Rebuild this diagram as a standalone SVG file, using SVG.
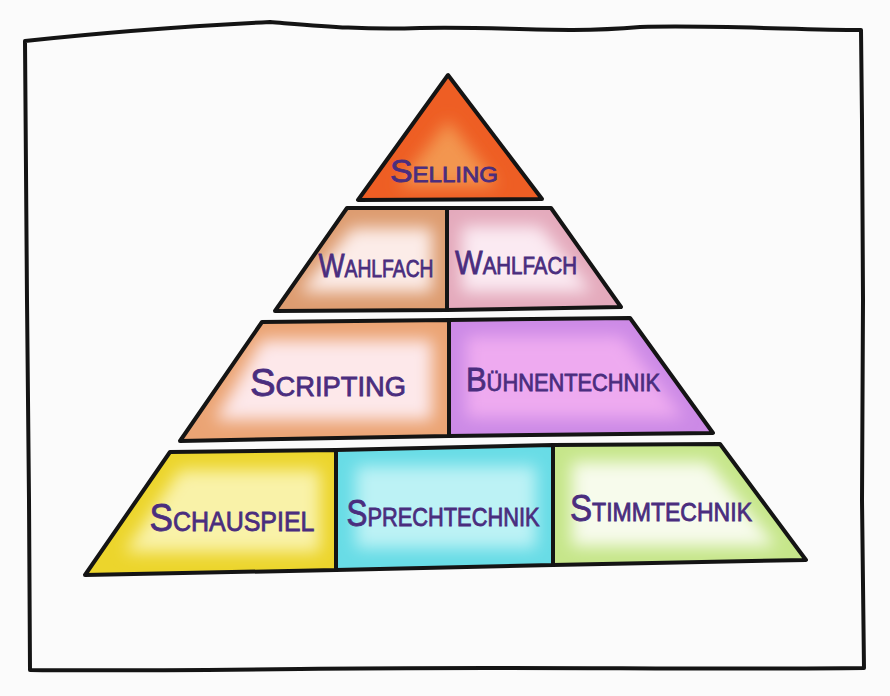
<svg xmlns="http://www.w3.org/2000/svg" width="890" height="696" viewBox="0 0 890 696">
<style>
.edge{fill:none;stroke:#141414;stroke-width:4;stroke-linejoin:round;stroke-linecap:round}
.lbl{font-family:"Liberation Sans","DejaVu Sans",sans-serif;font-variant:small-caps;fill:#4a2d7e;text-anchor:middle;stroke:#4a2d7e;stroke-width:0.8}
</style>
<defs>
<filter id="soft" x="-30%" y="-30%" width="160%" height="160%"><feGaussianBlur stdDeviation="8"/></filter>
<clipPath id="c1"><polygon points="448,75 358,200 542,199"/></clipPath>
<clipPath id="c2"><polygon points="347,208 447,208 447,310 275,311"/></clipPath>
<clipPath id="c3"><polygon points="447,208 551,208 621,307 447,310"/></clipPath>
<clipPath id="c4"><polygon points="262,322 449,320 449,436 180,441"/></clipPath>
<clipPath id="c5"><polygon points="449,320 630,318 713,433 449,436"/></clipPath>
<clipPath id="c6"><polygon points="170,452 336,450 336,570 85,575"/></clipPath>
<clipPath id="c7"><polygon points="336,450 553,445 553,565 336,570"/></clipPath>
<clipPath id="c8"><polygon points="553,445 720,444 806,560 553,565"/></clipPath>
</defs>
<rect width="890" height="696" fill="#fbfbfb"/>
<path class="edge" stroke-width="3.5" d="M25,41 C80,35 150,28 270,22 C320,26 360,30 420,28 C500,26 560,34 640,27 C720,25 800,30 861,30 L862,120 L863,300 L862,500 L864,668 C700,670 500,666 300,669 C200,670 100,671 30,670 L29,500 L27,300 L25,41 Z"/>
<g id="selling">
<g clip-path="url(#c1)"><polygon points="448,75 358,200 542,199" fill="#ee5e24"/><polygon points="448,120 398,186 498,186" fill="#f39650" filter="url(#soft)"/></g>
<polygon class="edge" points="448,75 358,200 542,199"/>
<text class="lbl" x="444" y="182" font-size="31" textLength="108" lengthAdjust="spacingAndGlyphs">Selling</text>
</g>
<g id="wahlfach1">
<g clip-path="url(#c2)"><polygon points="347,208 447,208 447,310 275,311" fill="#dd9c70"/><polygon points="352,228 432,228 432,292 300,292" fill="#fcece8" filter="url(#soft)"/></g>
<polygon class="edge" points="347,208 447,208 447,310 275,311"/>
<text class="lbl" x="376" y="277" font-size="33" textLength="115" lengthAdjust="spacingAndGlyphs">Wahlfach</text>
</g>
<g id="wahlfach2">
<g clip-path="url(#c3)"><polygon points="447,208 551,208 621,307 447,310" fill="#e4aabc"/><polygon points="462,226 540,226 592,292 462,292" fill="#fbeaf2" filter="url(#soft)"/></g>
<polygon class="edge" points="447,208 551,208 621,307 447,310"/>
<text class="lbl" x="516" y="274" font-size="33" textLength="122" lengthAdjust="spacingAndGlyphs">Wahlfach</text>
</g>
<g id="scripting">
<g clip-path="url(#c4)"><polygon points="262,322 449,320 449,436 180,441" fill="#eba474"/><polygon points="262,340 432,340 432,420 215,420" fill="#fde8ea" filter="url(#soft)"/></g>
<polygon class="edge" points="262,322 449,320 449,436 180,441"/>
<text class="lbl" x="328" y="396" font-size="38" textLength="156" lengthAdjust="spacingAndGlyphs">Scripting</text>
</g>
<g id="buehnentechnik">
<g clip-path="url(#c5)"><polygon points="449,320 630,318 713,433 449,436" fill="#cc8ae6"/><polygon points="466,336 622,336 684,418 466,418" fill="#eeaaf0" filter="url(#soft)"/></g>
<polygon class="edge" points="449,320 630,318 713,433 449,436"/>
<text class="lbl" x="563" y="391" font-size="34" textLength="194" lengthAdjust="spacingAndGlyphs">Bühnentechnik</text>
</g>
<g id="schauspiel">
<g clip-path="url(#c6)"><polygon points="170,452 336,450 336,570 85,575" fill="#ecd52c"/><polygon points="180,470 320,470 320,552 125,552" fill="#f9f2a8" filter="url(#soft)"/></g>
<polygon class="edge" points="170,452 336,450 336,570 85,575"/>
<text class="lbl" x="232" y="531" font-size="38" textLength="165" lengthAdjust="spacingAndGlyphs">Schauspiel</text>
</g>
<g id="sprechtechnik">
<g clip-path="url(#c7)"><polygon points="336,450 553,445 553,565 336,570" fill="#68dce6"/><polygon points="356,466 536,466 536,548 356,548" fill="#bcf2f5" filter="url(#soft)"/></g>
<polygon class="edge" points="336,450 553,445 553,565 336,570"/>
<text class="lbl" x="443" y="526" font-size="36" textLength="193" lengthAdjust="spacingAndGlyphs">Sprechtechnik</text>
</g>
<g id="stimmtechnik">
<g clip-path="url(#c8)"><polygon points="553,445 720,444 806,560 553,565" fill="#c6e68a"/><polygon points="572,462 708,462 776,546 572,546" fill="#f7fbec" filter="url(#soft)"/></g>
<polygon class="edge" points="553,445 720,444 806,560 553,565"/>
<text class="lbl" x="661" y="521" font-size="36" textLength="182" lengthAdjust="spacingAndGlyphs">Stimmtechnik</text>
</g>
<g id="connectors"/>
</svg>
